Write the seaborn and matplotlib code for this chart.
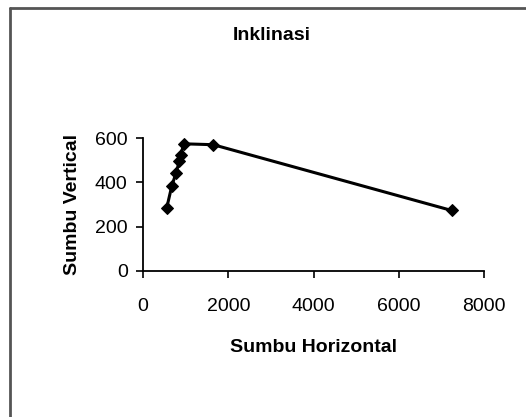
import matplotlib
matplotlib.use("Agg")
import matplotlib.pyplot as plt
import seaborn as sns
import pandas as pd
from matplotlib.lines import Line2D

horizontal = [556, 673, 774, 852, 884, 962, 1649, 7240]
vertical = [284, 382, 443, 495, 526, 575, 571, 273]
x_ticks = [0, 2000, 4000, 6000, 8000]
y_ticks = [0, 200, 400, 600]

sns.set_theme(style="white")
plt.rcParams['font.family'] = ['Liberation Sans', 'DejaVu Sans']

df = pd.DataFrame({"Sumbu Horizontal": horizontal, "Sumbu Vertical": vertical})

W, H = 526, 417
fig = plt.figure(figsize=(W / 100, H / 100), dpi=100)
fig.patch.set_facecolor("white")
ax = fig.add_axes([143 / W, (H - 270.7) / H, (484 - 143) / W, (270.7 - 138.3) / H])

sns.lineplot(data=df, x="Sumbu Horizontal", y="Sumbu Vertical", ax=ax, sort=False,
             color="black", linewidth=2.2, marker="D", markersize=6,
             markeredgecolor="black", markerfacecolor="black")

ax.set_xlim(0, 8000)
ax.set_ylim(0, 600)
ax.set_xticks(x_ticks)
ax.set_yticks(y_ticks)
ax.set_xticklabels([str(t) for t in x_ticks], fontsize=14)
ax.set_yticklabels([str(t) for t in y_ticks], fontsize=14)
for s in ["top", "right"]:
    ax.spines[s].set_visible(False)
for s in ["left", "bottom"]:
    ax.spines[s].set_color("black")
    ax.spines[s].set_linewidth(1.3)
ax.tick_params(axis="both", direction="out", length=5, width=1.2, color="black",
               labelcolor="black", bottom=True, left=True)
ax.tick_params(axis="x", pad=15)
ax.tick_params(axis="y", pad=6)

ax.set_xlabel("Sumbu Horizontal", fontsize=14, fontweight="bold", color="black", labelpad=17)
ax.set_ylabel("Sumbu Vertical", fontsize=14, fontweight="bold", color="black", labelpad=10)

fig.text(271.5 / W, 1 - 35 / H, "Inklinasi", ha="center", va="center",
         fontsize=14, fontweight="bold", color="black")

# outer chart border (top and left visible)
fig.add_artist(Line2D([10 / W, 1.0], [1 - 8 / H, 1 - 8 / H], transform=fig.transFigure,
                      color="#555555", linewidth=2))
fig.add_artist(Line2D([10 / W, 10 / W], [0, 1 - 8 / H], transform=fig.transFigure,
                      color="#555555", linewidth=2))

fig.savefig("out.png", dpi=100, facecolor="white")
